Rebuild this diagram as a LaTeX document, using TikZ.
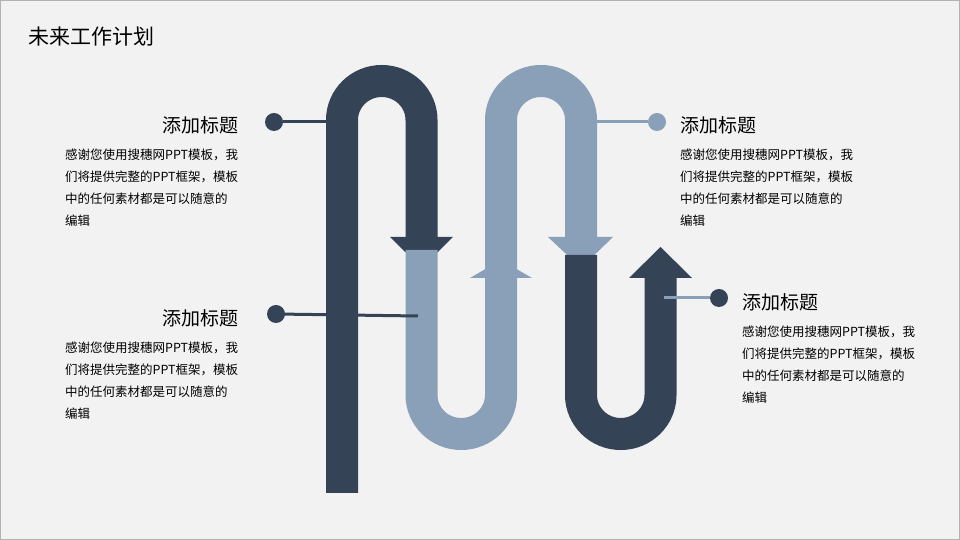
\documentclass[tikz,border=0pt]{standalone}
\usepackage{fontspec}
\setmainfont{Noto Sans CJK SC}
\definecolor{dk}{HTML}{344456}
\definecolor{lt}{HTML}{8AA0B9}
\definecolor{bg}{HTML}{F2F2F2}
\begin{document}
\begin{tikzpicture}[x=1pt,y=1pt,
  band/.style={line width=32pt},
  thin/.style={line width=3pt},
  head/.style={font=\fontsize{19}{22}\selectfont, inner sep=0pt},
  body/.style={font=\fontsize{12.5}{22}\selectfont, inner sep=0pt, align=left, text width=200pt}]
\fill[bg] (0,0) rectangle (960,540);
\draw[gray!60, line width=1pt] (0.5,0.5) rectangle (959.5,539.5);
\node[anchor=west, font=\fontsize{21}{24}\selectfont, inner sep=0pt] (t) at (28,503) {未来工作计划};
% dark path 1
\draw[band, dk] (342,47) -- (342,420) arc[start angle=180,end angle=0,x radius=39.75,y radius=39] -- (421.5,300);
\fill[dk] (390,303) -- (453,303) -- (421.5,272) -- cycle;
% light U
\draw[band, lt] (421.5,290) -- (421.5,145) arc[start angle=180,end angle=360,x radius=39.75,y radius=39] -- (501,262);
\fill[lt] (470,262) -- (532,262) -- (501,280) -- cycle;
\draw[band, lt] (501,270) -- (501,420) arc[start angle=180,end angle=0,x radius=40,y radius=39] -- (581,300);
\fill[lt] (548,303) -- (613,303) -- (581,272) -- cycle;
% dark U
\draw[band, dk] (581,285) -- (581,145) arc[start angle=180,end angle=360,x radius=39.75,y radius=39] -- (660.5,262);
\fill[dk] (629,262) -- (692,262) -- (660.5,293) -- cycle;
% connectors
\coordinate (a1) at (326,418);
\node[circle, fill=dk, minimum size=18pt, inner sep=0pt] (d1) at (274,418) {};
\draw[thin, dk] (d1) -- (a1);
\coordinate (a2) at (418,224);
\node[circle, fill=dk, minimum size=18pt, inner sep=0pt] (d2) at (276,226) {};
\draw[thin, dk] (d2.center) -- (a2);
\coordinate (a3) at (597,418);
\node[circle, fill=lt, minimum size=18pt, inner sep=0pt] (d3) at (657,418) {};
\draw[thin, lt] (a3) -- (d3);
\coordinate (a4) at (664,242);
\node[circle, fill=dk, minimum size=18pt, inner sep=0pt] (d4) at (719,242) {};
\draw[thin, lt] (a4) -- (d4);
% texts
\node[head, anchor=east] (h1) at (239,415) {添加标题};
\node[body, anchor=north west] (b1) at (65,391) {感谢您使用搜穗网PPT模板，我\\们将提供完整的PPT框架，模板\\中的任何素材都是可以随意的\\编辑};
\node[head, anchor=east] (h2) at (239,222) {添加标题};
\node[body, anchor=north west] (b2) at (65,198) {感谢您使用搜穗网PPT模板，我\\们将提供完整的PPT框架，模板\\中的任何素材都是可以随意的\\编辑};
\node[head, anchor=west] (h3) at (680,415) {添加标题};
\node[body, anchor=north west] (b3) at (680,391) {感谢您使用搜穗网PPT模板，我\\们将提供完整的PPT框架，模板\\中的任何素材都是可以随意的\\编辑};
\node[head, anchor=west] (h4) at (742,238) {添加标题};
\node[body, anchor=north west] (b4) at (742,214) {感谢您使用搜穗网PPT模板，我\\们将提供完整的PPT框架，模板\\中的任何素材都是可以随意的\\编辑};
\end{tikzpicture}
\end{document}
